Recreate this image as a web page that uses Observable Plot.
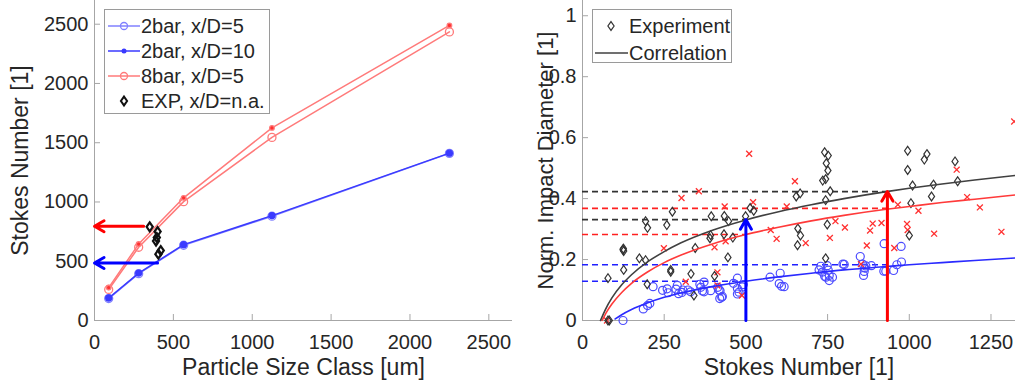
<!DOCTYPE html>
<html><head><meta charset="utf-8">
<script src="https://cdn.jsdelivr.net/npm/d3@7"></script>
<script src="https://cdn.jsdelivr.net/npm/@observablehq/plot@0.6"></script>
<style>
html,body{margin:0;padding:0;background:#fff;}
#wrap{position:relative;width:1015px;height:389px;overflow:hidden;font-family:"Liberation Sans",Arial,sans-serif;}
#left{position:absolute;left:0;top:0;}
#right{position:absolute;left:540px;top:0;}
.legend{position:absolute;background:#fff;border:1px solid #9a9a9a;font-size:20px;color:#262626;box-sizing:border-box;}
.legend .row{position:absolute;left:0;height:24px;width:100%;}
.legend .row svg{position:absolute;left:0;top:0;}
.legend .row span{position:absolute;top:0;line-height:24px;white-space:nowrap;}
</style></head><body>
<div id="wrap"><div id="left"></div><div id="right"></div></div>
<script>
// ---------- Left panel data ----------
const sizeClass = [90, 280, 565, 1125, 2250];
const stk2bar5  = [185, 395, 635, 880, 1410];
const stk2bar10 = [190, 400, 640, 885, 1412];
const stk8bar5  = [262, 618, 1003, 1545, 2435];
const stk8bar10 = [278, 645, 1035, 1625, 2490];
const expSize = [350, 400, 395, 390, 420, 405];
const expStk  = [790, 750, 700, 670, 590, 560];
const leftArrowFrom = [400, 312];
const leftArrowStk  = [485, 795];
const leftArrowColor = ["#0000ff", "#ff0000"];
const leftXTicks = [0, 500, 1000, 1500, 2000, 2500];
const leftYTicks = [0, 500, 1000, 1500, 2000, 2500];
const leftLegend = ["2bar, x/D=5", "2bar, x/D=10", "8bar, x/D=5", "EXP, x/D=n.a."];

// ---------- Right panel data ----------
const expStokes = [78,82,78,124,126,125,126,174,193,193,199,198,258,275,270,270,332,345,341,394,392,390,404,434,433,447,460,445,499,513,524,654,666,659,667,658,741,752,746,751,744,735,758,744,749,744,995,995,1054,1046,1140,1010,1074,1148,1005,1068,1000];
const expDiam   = [0,0,0.139,0.232,0.228,0.236,0.166,0.204,0.198,0.326,0.304,0.119,0.313,0.357,0.166,0.16,0.153,0.238,0.082,0.342,0.28,0.27,0.146,0.343,0.283,0.326,0.272,0.207,0.342,0.369,0.36,0.407,0.417,0.302,0.279,0.247,0.552,0.541,0.516,0.492,0.464,0.459,0.424,0.395,0.315,0.204,0.557,0.494,0.546,0.528,0.522,0.443,0.446,0.457,0.385,0.407,0.279];
const redStokes = [75,249,303,316,356,404,413,413,435,438,488,510,522,576,594,625,650,683,757,774,803,852,870,880,888,915,954,965,993,995,1028,1076,1145,1177,1216,1282,1321];
const redDiam   = [0,0.237,0.402,0.127,0.424,0.24,0.158,0.115,0.374,0.26,0.082,0.547,0.388,0.297,0.268,0.374,0.457,0.254,0.271,0.326,0.305,0.185,0.246,0.295,0.318,0.32,0.238,0.38,0.317,0.297,0.36,0.285,0.495,0.405,0.371,0.291,0.653];
const blueStokes = [124,186,199,206,216,245,259,262,286,290,294,304,307,323,331,359,362,367,372,372,392,414,418,421,420,426,428,462,474,474,474,479,489,492,574,605,602,609,617,724,729,734,741,745,749,752,755,755,765,797,801,850,857,864,867,862,860,884,922,923,928,952,962,975,976];
const blueDiam   = [0,0.038,0.049,0.056,0.111,0.099,0.104,0.091,0.103,0.115,0.088,0.092,0.1,0.1,0.094,0.119,0.109,0.097,0.126,0.094,0.098,0.109,0.1,0.098,0.072,0.076,0.079,0.122,0.139,0.105,0.087,0.093,0.11,0.118,0.142,0.155,0.121,0.112,0.111,0.166,0.178,0.159,0.145,0.142,0.18,0.165,0.131,0.148,0.142,0.185,0.184,0.21,0.185,0.172,0.179,0.161,0.148,0.18,0.162,0.252,0.162,0.164,0.183,0.243,0.192];
// correlation curves
const corrBlackX = [55,70,90,120,150,200,250,300,400,500,600,700,800,930,1000,1100,1200,1325];
const corrBlackY = [0,0.036,0.074,0.117,0.150,0.193,0.226,0.254,0.297,0.330,0.357,0.380,0.400,0.423,0.434,0.448,0.461,0.476];
const corrRedX = [60,75,90,120,150,200,250,300,400,500,600,700,800,930,1000,1100,1200,1325];
const corrRedY = [0,0.030,0.054,0.092,0.122,0.160,0.190,0.214,0.252,0.282,0.306,0.327,0.345,0.365,0.374,0.387,0.398,0.412];
const corrBlueX = [100,120,150,200,250,300,400,500,600,700,800,930,1000,1100,1200,1325];
const corrBlueY = [0.005,0.019,0.036,0.058,0.076,0.090,0.112,0.129,0.143,0.155,0.166,0.177,0.183,0.190,0.197,0.205];
// dashed reference levels
const dashLevel = [0.423, 0.331, 0.368, 0.282, 0.183, 0.129];
const dashEnd   = [933, 500, 933, 500, 933, 500];
const dashColor = ["#333333", "#333333", "#ff2020", "#ff2020", "#2020ff", "#2020ff"];
const arrowStokes = [500, 933];
const arrowTop    = [0.331, 0.423];
const arrowColor  = ["#0000ff", "#ff0000"];
const rightXTicks = [0, 250, 500, 750, 1000, 1250];
const rightYTicks = [0, 0.2, 0.4, 0.6, 0.8, 1];
const rightLegend = ["Experiment", "Correlation"];

// ---------- styling helpers ----------
const font = "Liberation Sans, Arial, sans-serif";
const axisColor = "#a6a6a6";
const textColor = "#262626";
const diamondTall = {draw(ctx, size) { const h = Math.sqrt(size) * 0.62, w = h * 0.7; ctx.moveTo(0, -h); ctx.lineTo(w, 0); ctx.lineTo(0, h); ctx.lineTo(-w, 0); ctx.closePath(); }};

const zip = (xs, ys) => xs.map((x, i) => ({x, y: ys[i]}));

// ---------- Left plot ----------
const lineSeries = [
  {x: sizeClass, y: stk2bar5, stroke: "#8080ff", fill: "none", r: 4},
  {x: sizeClass, y: stk2bar10, stroke: "#3a3aff", fill: "#3a3aff", r: 3},
  {x: sizeClass, y: stk8bar5, stroke: "#ff7a7a", fill: "none", r: 4},
  {x: sizeClass, y: stk8bar10, stroke: "#ff7a7a", fill: "#ff3030", r: 2.3}
];
const leftMarks = [
  Plot.ruleX([0], {stroke: axisColor}),
  Plot.ruleY([0], {stroke: axisColor}),
  Plot.axisX(leftXTicks, {tickSize: -6, tickPadding: 20, stroke: axisColor, color: textColor, fontSize: 20, tickFormat: d3.format("d"), label: null}),
  Plot.axisY(leftYTicks, {tickSize: -6, tickPadding: 12, stroke: axisColor, color: textColor, fontSize: 20, tickFormat: d3.format("d"), label: null}),
  Plot.text(["Particle Size Class [um]"], {frameAnchor: "bottom", dy: 54, fontSize: 23, fill: textColor, textAnchor: "middle"}),
  Plot.text(["Stokes Number [1]"], {frameAnchor: "left", dx: -74, rotate: -90, fontSize: 23, fill: textColor, textAnchor: "middle"})
];
for (const s of lineSeries) {
  const d = zip(s.x, s.y);
  leftMarks.push(Plot.line(d, {x: "x", y: "y", stroke: s.stroke, strokeWidth: 1.5}));
  leftMarks.push(Plot.dot(d, {x: "x", y: "y", stroke: s.stroke, fill: s.fill, r: s.r, strokeWidth: 1.3}));
}
leftMarks.push(Plot.arrow(leftArrowFrom.map((x, i) => ({x1: x, x2: 0, y: leftArrowStk[i], c: leftArrowColor[i]})),
  {x1: "x1", x2: "x2", y1: "y", y2: "y", stroke: "c", strokeWidth: 3, headLength: 5.5, headAngle: 60}));
leftMarks.push(Plot.dot(zip(expSize, expStk), {x: "x", y: "y", symbol: diamondTall, r: 4, stroke: "#111", strokeWidth: 2.2, fill: "none"}));

const leftPlot = Plot.plot({
  width: 540, height: 389, marginLeft: 94, marginRight: 28, marginTop: 0, marginBottom: 69,
  style: {fontFamily: font, background: "transparent", overflow: "visible"},
  x: {domain: [0, 2650]},
  y: {domain: [0, 2700]},
  color: {type: "identity"},
  marks: leftMarks
});
document.getElementById("left").append(leftPlot);

// ---------- Right plot ----------
const rightMarks = [
  Plot.ruleX([0], {stroke: axisColor}),
  Plot.ruleY([0], {stroke: axisColor}),
  Plot.axisX(rightXTicks, {tickSize: -6, tickPadding: 20, stroke: axisColor, color: textColor, fontSize: 20, tickFormat: d3.format("~g"), label: null}),
  Plot.axisY(rightYTicks, {tickSize: -6, tickPadding: 12, stroke: axisColor, color: textColor, fontSize: 20, tickFormat: d3.format("~g"), label: null}),
  Plot.text(["Stokes Number [1]"], {frameAnchor: "bottom", dy: 54, fontSize: 23, fill: textColor, textAnchor: "middle"}),
  Plot.text(["Norm. Impact Diameter [1]"], {frameAnchor: "left", dx: -37, rotate: -90, fontSize: 22, fill: textColor, textAnchor: "middle"}),
  Plot.ruleY(dashLevel.map((y, i) => ({y, x2: dashEnd[i], c: dashColor[i]})), {y: "y", x1: 0, x2: "x2", stroke: "c", strokeWidth: 1.6, strokeDasharray: "6,4"}),
  Plot.dot(zip(blueStokes, blueDiam), {x: "x", y: "y", r: 4, stroke: "#4b4bff", strokeWidth: 1.2, fill: "none"}),
  Plot.dot(zip(redStokes, redDiam), {x: "x", y: "y", r: 2.8, symbol: "times", stroke: "#ff3030", strokeWidth: 1.3}),
  Plot.dot(zip(expStokes, expDiam), {x: "x", y: "y", r: 4, symbol: diamondTall, stroke: "#333", strokeWidth: 1.2, fill: "none"}),
  Plot.line(zip(corrBlueX, corrBlueY), {x: "x", y: "y", stroke: "#2a2aff", strokeWidth: 1.6, curve: "monotone-x"}),
  Plot.line(zip(corrRedX, corrRedY), {x: "x", y: "y", stroke: "#ff3a3a", strokeWidth: 1.6, curve: "monotone-x"}),
  Plot.line(zip(corrBlackX, corrBlackY), {x: "x", y: "y", stroke: "#404040", strokeWidth: 1.6, curve: "monotone-x"}),
  Plot.arrow(arrowStokes.map((x, i) => ({x, y2: arrowTop[i], c: arrowColor[i]})),
    {x1: "x", x2: "x", y1: 0, y2: "y2", stroke: "c", strokeWidth: 3, headLength: 5.5, headAngle: 60})
];
const rightPlot = Plot.plot({
  width: 475, height: 389, marginLeft: 42, marginRight: 0, marginTop: 0, marginBottom: 69,
  style: {fontFamily: font, background: "transparent", overflow: "visible"},
  x: {domain: [0, 1325]},
  y: {domain: [0, 1.05]},
  color: {type: "identity"},
  marks: rightMarks
});
document.getElementById("right").append(rightPlot);

// ---------- Legends (HTML overlays) ----------
function legendBox(left, top, w, h, rows) {
  const box = document.createElement("div");
  box.className = "legend";
  Object.assign(box.style, {left: left + "px", top: top + "px", width: w + "px", height: h + "px"});
  for (const r of rows) {
    const row = document.createElement("div");
    row.className = "row";
    row.style.top = (r.cy - 12) + "px";
    row.innerHTML = `<svg width="36" height="24">${r.icon}</svg><span style="left:${r.tx}px">${r.label}</span>`;
    box.append(row);
  }
  document.getElementById("wrap").append(box);
}
const dia = (cx, cy, stroke, sw) => `<path d="M${cx},${cy-4.4}L${cx+3.1},${cy}L${cx},${cy+4.4}L${cx-3.1},${cy}Z" fill="none" stroke="${stroke}" stroke-width="${sw}"/>`;
legendBox(104, 9, 166, 105, [
  {cy: 16, tx: 36, label: leftLegend[0], icon: `<line x1="3" x2="35" y1="12" y2="12" stroke="#8080ff" stroke-width="1.5"/><circle cx="19" cy="12" r="3.5" fill="none" stroke="#8080ff" stroke-width="1.3"/>`},
  {cy: 41, tx: 36, label: leftLegend[1], icon: `<line x1="3" x2="35" y1="12" y2="12" stroke="#3a3aff" stroke-width="1.5"/><circle cx="19" cy="12" r="2.5" fill="#3a3aff"/>`},
  {cy: 66, tx: 36, label: leftLegend[2], icon: `<line x1="3" x2="35" y1="12" y2="12" stroke="#ff7a7a" stroke-width="1.5"/><circle cx="19" cy="12" r="3.5" fill="none" stroke="#ff7a7a" stroke-width="1.3"/>`},
  {cy: 91, tx: 36, label: leftLegend[3], icon: dia(19, 12, "#111", 2)}
]);
legendBox(592, 9, 140, 54, [
  {cy: 16, tx: 36, label: rightLegend[0], icon: dia(18, 12, "#333", 1.2)},
  {cy: 43, tx: 36, label: rightLegend[1], icon: `<line x1="2" x2="35" y1="12" y2="12" stroke="#404040" stroke-width="1.5"/>`}
]);
</script>
</body></html>
